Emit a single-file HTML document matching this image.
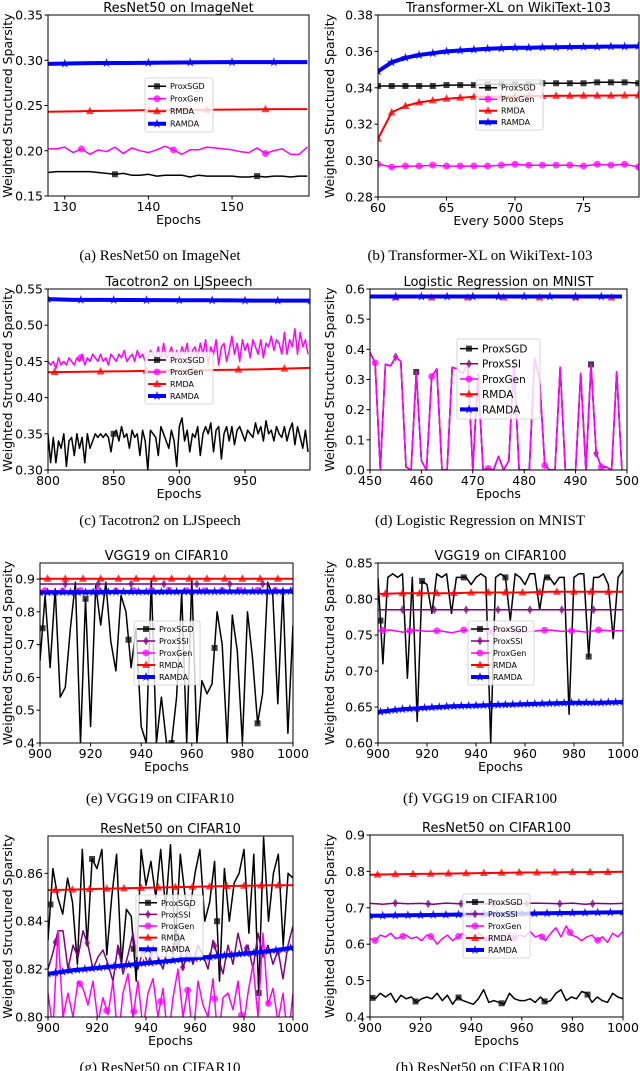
<!DOCTYPE html>
<html><head><meta charset="utf-8">
<style>
html,body{margin:0;padding:0;background:#fff;}
svg{display:block;}
text{font-family:"DejaVu Sans","Liberation Sans",sans-serif;}
.cap{font-family:"Liberation Serif","DejaVu Serif",serif;font-size:15px;}
</style></head>
<body>
<svg id="fig" width="640" height="1071" viewBox="0 0 640 1071" xmlns="http://www.w3.org/2000/svg"></svg>
<script>
// ---------- data ----------
const a_sgd=[0.176,0.177,0.177,0.177,0.177,0.177,0.176,0.175,0.174,0.175,0.173,0.173,0.174,0.172,0.173,0.173,0.173,0.171,0.173,0.172,0.172,0.172,0.172,0.171,0.171,0.172,0.171,0.172,0.172,0.171,0.172,0.172];
const a_gen=[0.202,0.202,0.204,0.198,0.202,0.196,0.201,0.199,0.204,0.197,0.203,0.200,0.198,0.201,0.205,0.201,0.196,0.201,0.201,0.204,0.203,0.202,0.201,0.199,0.198,0.203,0.197,0.200,0.202,0.196,0.196,0.204];
const a_rmda=[0.243,0.2435,0.244,0.2445,0.245,0.245,0.2452,0.2455,0.2457,0.246,0.246];
const a_ramda=[0.296,0.2965,0.297,0.297,0.2972,0.2975,0.2977,0.298,0.298,0.298,0.298];

const b_sgd=[0.341,0.341,0.341,0.341,0.341,0.3415,0.3415,0.3415,0.342,0.342,0.342,0.342,0.3425,0.3425,0.3425,0.3425,0.343,0.343,0.343,0.3425];
const b_gen=[0.298,0.2965,0.297,0.297,0.2975,0.297,0.297,0.297,0.297,0.2975,0.298,0.2975,0.2975,0.2975,0.2975,0.297,0.298,0.2975,0.298,0.2965];
const b_rmda=[0.312,0.3265,0.330,0.332,0.333,0.334,0.3345,0.335,0.335,0.3352,0.3353,0.3355,0.3355,0.3356,0.3356,0.3357,0.3357,0.3357,0.3358,0.3358];
const b_ramda=[0.349,0.354,0.3565,0.358,0.359,0.360,0.3605,0.361,0.3615,0.3617,0.362,0.362,0.3622,0.3623,0.3624,0.3625,0.3626,0.3627,0.3627,0.3628];

const c_sgd=[0.35,0.31,0.345,0.31,0.34,0.33,0.35,0.305,0.34,0.345,0.32,0.35,0.33,0.345,0.31,0.35,0.33,0.34,0.35,0.345,0.35,0.345,0.35,0.345,0.325,0.35,0.355,0.34,0.36,0.345,0.35,0.33,0.355,0.345,0.35,0.32,0.355,0.34,0.30,0.355,0.35,0.345,0.32,0.36,0.35,0.34,0.33,0.355,0.34,0.305,0.36,0.372,0.34,0.355,0.325,0.35,0.345,0.36,0.32,0.35,0.36,0.35,0.365,0.325,0.355,0.36,0.315,0.35,0.36,0.34,0.36,0.335,0.355,0.36,0.35,0.34,0.355,0.35,0.345,0.365,0.35,0.36,0.34,0.368,0.35,0.355,0.34,0.36,0.35,0.345,0.36,0.34,0.355,0.365,0.335,0.36,0.345,0.33,0.355,0.325];
const c_gen=[0.45,0.445,0.45,0.44,0.455,0.445,0.45,0.445,0.455,0.45,0.445,0.455,0.45,0.46,0.445,0.455,0.45,0.46,0.455,0.45,0.46,0.45,0.455,0.445,0.46,0.455,0.45,0.46,0.455,0.465,0.45,0.455,0.46,0.45,0.465,0.455,0.46,0.45,0.455,0.465,0.46,0.455,0.47,0.45,0.475,0.455,0.46,0.47,0.45,0.465,0.455,0.47,0.46,0.475,0.445,0.465,0.47,0.455,0.475,0.46,0.48,0.445,0.47,0.46,0.48,0.445,0.47,0.475,0.45,0.465,0.485,0.46,0.475,0.45,0.48,0.465,0.475,0.455,0.48,0.47,0.46,0.48,0.455,0.475,0.47,0.485,0.465,0.48,0.475,0.46,0.49,0.46,0.48,0.47,0.495,0.46,0.49,0.47,0.48,0.46];
const c_rmda=[0.435,0.4355,0.436,0.4365,0.437,0.4375,0.438,0.4385,0.439,0.44,0.441];
const c_ramda=[0.536,0.535,0.535,0.5348,0.5346,0.5345,0.5344,0.5342,0.534,0.534,0.534];

const d_gen=[0.39,0.355,0.0,0.35,0.345,0.375,0.36,0.01,0.0,0.325,0.03,0.0,0.31,0.335,0.0,0.0,0.34,0.335,0.32,0.35,0.0,0.32,0.0,0.005,0.0,0.045,0.0,0.03,0.36,0.0,0.0,0.0,0.37,0.3,0.015,0.0,0.0,0.34,0.0,0.0,0.0,0.32,0.0,0.35,0.055,0.01,0.01,0.0,0.325,0.0];
const d_rmda=[0.572,0.572,0.572,0.572,0.572];
const d_ramda=[0.575,0.575,0.575,0.575,0.575];

const e_sgd=[0.65,0.85,0.63,0.87,0.54,0.57,0.75,0.89,0.40,0.84,0.45,0.88,0.76,0.89,0.71,0.62,0.85,0.80,0.63,0.75,0.45,0.40,0.90,0.40,0.54,0.40,0.40,0.54,0.86,0.40,0.90,0.40,0.59,0.55,0.58,0.80,0.70,0.40,0.79,0.68,0.40,0.80,0.66,0.46,0.55,0.89,0.85,0.52,0.87,0.43,0.76];
const e_ssi=[0.885,0.885,0.885,0.885,0.885];
const e_gen=[0.865,0.864,0.866,0.864,0.865,0.866,0.864,0.865,0.866,0.865,0.865];
const e_rmda=[0.901,0.901,0.901,0.901,0.901];
const e_ramda=[0.859,0.86,0.86,0.861,0.861,0.861,0.862,0.862,0.862,0.862,0.863];

const f_sgd=[0.83,0.71,0.83,0.835,0.83,0.835,0.69,0.83,0.63,0.825,0.82,0.78,0.835,0.83,0.835,0.78,0.83,0.83,0.83,0.82,0.83,0.835,0.83,0.60,0.83,0.835,0.83,0.77,0.835,0.83,0.82,0.835,0.835,0.785,0.83,0.83,0.82,0.83,0.83,0.64,0.83,0.835,0.835,0.72,0.83,0.83,0.835,0.82,0.745,0.83,0.84];
const f_ssi=[0.785,0.785,0.785,0.785,0.785];
const f_gen=[0.756,0.757,0.754,0.757,0.755,0.756,0.753,0.757,0.756,0.755,0.756,0.757,0.754,0.756,0.757,0.755,0.756,0.754,0.757,0.756,0.756];
const f_rmda=[0.807,0.808,0.808,0.808,0.809,0.809,0.809,0.81,0.81,0.81,0.81];
const f_ramda=[0.643,0.647,0.649,0.651,0.652,0.653,0.654,0.655,0.656,0.656,0.657];

const g_sgd=[0.832,0.862,0.85,0.843,0.858,0.848,0.822,0.87,0.83,0.866,0.862,0.87,0.826,0.85,0.868,0.822,0.845,0.842,0.815,0.87,0.855,0.865,0.85,0.87,0.845,0.872,0.83,0.868,0.85,0.845,0.86,0.87,0.84,0.848,0.865,0.815,0.862,0.84,0.856,0.86,0.87,0.835,0.868,0.81,0.875,0.84,0.86,0.868,0.83,0.86,0.858];
const g_ssi=[0.82,0.827,0.836,0.836,0.82,0.83,0.825,0.836,0.83,0.82,0.825,0.828,0.822,0.815,0.83,0.818,0.826,0.835,0.82,0.828,0.822,0.83,0.825,0.82,0.83,0.826,0.835,0.82,0.829,0.822,0.83,0.826,0.82,0.832,0.825,0.818,0.83,0.822,0.835,0.826,0.83,0.82,0.835,0.825,0.83,0.822,0.828,0.816,0.83,0.838];
const g_gen=[0.81,0.795,0.836,0.80,0.81,0.80,0.815,0.812,0.805,0.815,0.798,0.808,0.801,0.815,0.79,0.81,0.818,0.8,0.815,0.795,0.81,0.816,0.8,0.812,0.79,0.808,0.82,0.8,0.812,0.79,0.815,0.805,0.8,0.816,0.79,0.808,0.81,0.803,0.815,0.795,0.81,0.822,0.8,0.835,0.805,0.812,0.798,0.81,0.79,0.81];
const g_rmda=[0.853,0.8532,0.8535,0.8537,0.854,0.8542,0.8544,0.8546,0.8548,0.855,0.855];
const g_ramda=[0.818,0.8195,0.8205,0.8215,0.8225,0.8235,0.8245,0.8255,0.8265,0.8275,0.829];

const h_sgd=[0.455,0.45,0.465,0.455,0.465,0.44,0.46,0.45,0.455,0.44,0.45,0.455,0.45,0.465,0.445,0.46,0.435,0.455,0.445,0.44,0.435,0.45,0.475,0.44,0.445,0.44,0.435,0.465,0.45,0.445,0.445,0.45,0.44,0.455,0.44,0.445,0.465,0.475,0.445,0.455,0.45,0.47,0.465,0.44,0.455,0.445,0.44,0.465,0.455,0.45];
const h_ssi=[0.712,0.71,0.713,0.711,0.712,0.71,0.713,0.711,0.712,0.711,0.71,0.712,0.711,0.713,0.712,0.711,0.713,0.71,0.712,0.711,0.712];
const h_gen=[0.615,0.61,0.625,0.62,0.63,0.615,0.62,0.625,0.615,0.62,0.61,0.625,0.62,0.6,0.615,0.625,0.61,0.62,0.63,0.62,0.615,0.63,0.62,0.61,0.625,0.61,0.62,0.63,0.615,0.625,0.62,0.635,0.62,0.625,0.61,0.63,0.645,0.62,0.65,0.625,0.62,0.61,0.62,0.625,0.61,0.62,0.605,0.63,0.62,0.635];
const h_rmda=[0.791,0.792,0.793,0.794,0.795,0.796,0.797,0.797,0.798,0.798,0.799];
const h_ramda=[0.678,0.679,0.68,0.681,0.682,0.683,0.684,0.685,0.686,0.687,0.688];

const aXT=[130,140,150], aYT=[0.15,0.20,0.25,0.30,0.35];
const bXT=[60,65,70,75], bYT=[0.28,0.30,0.32,0.34,0.36,0.38];
const cXT=[800,850,900,950], cYT=[0.30,0.35,0.40,0.45,0.50,0.55];
const dXT=[450,460,470,480,490,500], dYT=[0.0,0.1,0.2,0.3,0.4,0.5,0.6];
const eXT=[900,920,940,960,980,1000], eYT=[0.4,0.5,0.6,0.7,0.8,0.9];
const fXT=[900,920,940,960,980,1000], fYT=[0.60,0.65,0.70,0.75,0.80,0.85];
const gXT=[900,920,940,960,980,1000], gYT=[0.80,0.82,0.84,0.86];
const hXT=[900,920,940,960,980,1000], hYT=[0.4,0.5,0.6,0.7,0.8,0.9];

// ---------- styles ----------
const ST={
 ProxSGD:{c:'#000000',w:1.5,m:'sq'},
 ProxSSI:{c:'#800080',w:1.5,m:'dia'},
 ProxGen:{c:'#ff00ff',w:1.5,m:'circ'},
 RMDA:{c:'#ff0000',w:2,m:'tri'},
 RAMDA:{c:'#0000ff',w:4,m:'star'}
};
const NS='http://www.w3.org/2000/svg';
const fig=document.getElementById('fig');
function mk(tag,attrs,parent){const e=document.createElementNS(NS,tag);for(const k in attrs)e.setAttribute(k,attrs[k]);(parent||fig).appendChild(e);return e;}
function marker(type,x,y,col,g){
  let e;
  if(type==='sq'){e=mk('rect',{x:x-3,y:y-3,width:6,height:6,fill:col,'fill-opacity':0.75},g);}
  else if(type==='circ'){e=mk('circle',{cx:x,cy:y,r:3.5,fill:col,'fill-opacity':0.75},g);}
  else if(type==='tri'){e=mk('polygon',{points:`${x},${y-4.5} ${x-4},${y+3} ${x+4},${y+3}`,fill:col,'fill-opacity':0.75},g);}
  else if(type==='dia'){e=mk('polygon',{points:`${x},${y-4.5} ${x-2.8},${y} ${x},${y+4.5} ${x+2.8},${y}`,fill:col,'fill-opacity':0.75},g);}
  else {let p=[];for(let i=0;i<10;i++){const r=i%2?2:5;const a=-Math.PI/2+i*Math.PI/5;p.push((x+r*Math.cos(a)).toFixed(1)+','+(y+r*Math.sin(a)).toFixed(1));}
        e=mk('polygon',{points:p.join(' '),fill:col,'fill-opacity':0.85},g);}
  
  
}

const charts=[
 {id:'a',title:'ResNet50 on ImageNet',box:[48,15,309,196],xd:[128,159.2],yd:[0.15,0.35],xt:aXT,yt:aYT,dec:2,xl:'Epochs',cap:'(a) ResNet50 on ImageNet',capY:260,leg:[145,78,68,54],lf:8,
  series:[['ProxSGD',a_sgd,128,159,[136,17]],['ProxGen',a_gen,128,159,[132,11]],['RMDA',a_rmda,128,159,[133,7]],['RAMDA',a_ramda,128,159,[130,5]]]},
 {id:'b',title:'Transformer-XL on WikiText-103',box:[378,15,639,197],xd:[60,79.05],yd:[0.28,0.38],xt:bXT,yt:bYT,dec:2,xl:'Every 5000 Steps',cap:'(b) Transformer-XL on WikiText-103',capY:260,leg:[476,80,67,50],lf:8,
  series:[['ProxSGD',b_sgd,60,79,[60,1]],['ProxGen',b_gen,60,79,[60,1]],['RMDA',b_rmda,60,79,[60,1]],['RAMDA',b_ramda,60,79,[60,1]]]},
 {id:'c',title:'Tacotron2 on LJSpeech',box:[48,289,310,470],xd:[800,999.5],yd:[0.30,0.55],xt:cXT,yt:cYT,dec:2,xl:'Epochs',cap:'(c) Tacotron2 on LJSpeech',capY:525,leg:[145,352,68,52],lf:8,
  series:[['ProxSGD',c_sgd,800,998,[850,200]],['ProxGen',c_gen,800,998,[825,200]],['RMDA',c_rmda,800,1000,[805,35]],['RAMDA',c_ramda,800,1000,[800,25]]]},
 {id:'d',title:'Logistic Regression on MNIST',box:[370,289,627,470],xd:[450,500],yd:[0,0.6],xt:dXT,yt:dYT,dec:1,xl:'Epochs',cap:'(d) Logistic Regression on MNIST',capY:525,leg:[457,339,83,80],lf:10.5,
  series:[['ProxSGD',d_gen,450,499,[459,34]],['ProxSSI',d_gen,450,499,[455,39]],['ProxGen',d_gen,450,499,[451,11]],['RMDA',d_rmda,450,499,[455,7]],['RAMDA',d_ramda,450,499,[455,5]]]},
 {id:'e',title:'VGG19 on CIFAR10',box:[40,563,293,743],xd:[900,1000],yd:[0.4,0.949],xt:eXT,yt:eYT,dec:1,xl:'Epochs',cap:'(e) VGG19 on CIFAR10',capY:803,leg:[134,621,66,64],lf:8,
  series:[['ProxSGD',e_sgd,900,1000,[901,17]],['ProxSSI',e_ssi,900,1000,[910,13]],['ProxGen',e_gen,900,1000,[902,7]],['RMDA',e_rmda,900,1000,[903,7]],['RAMDA',e_ramda,900,1000,[900,3]]]},
 {id:'f',title:'VGG19 on CIFAR100',box:[378,563,623,743],xd:[900,1000],yd:[0.60,0.85],xt:fXT,yt:fYT,dec:2,xl:'Epochs',cap:'(f) VGG19 on CIFAR100',capY:803,leg:[468,621,66,64],lf:8,
  series:[['ProxSGD',f_sgd,900,1000,[901,17]],['ProxSSI',f_ssi,900,1000,[910,13]],['ProxGen',f_gen,900,1000,[902,11]],['RMDA',f_rmda,900,1000,[903,7]],['RAMDA',f_ramda,900,1000,[901,3]]]},
 {id:'g',title:'ResNet50 on CIFAR10',box:[48,836,293,1017],xd:[900,1000],yd:[0.80,0.8756],xt:gXT,yt:gYT,dec:2,xl:'Epochs',cap:'(g) ResNet50 on CIFAR10',capY:1072,leg:[136,895,67,62],lf:8,
  series:[['ProxSGD',g_sgd,900,1000,[901,17]],['ProxSSI',g_ssi,900,1000,[903,13]],['ProxGen',g_gen,900,1000,[913,11]],['RMDA',g_rmda,900,1000,[903,7]],['RAMDA',g_ramda,900,1000,[900,3]]]},
 {id:'h',title:'ResNet50 on CIFAR100',box:[370,835,623,1017],xd:[900,1000],yd:[0.4,0.9],xt:hXT,yt:hYT,dec:1,xl:'Epochs',cap:'(h) ResNet50 on CIFAR100',capY:1072,leg:[463,894,67,64],lf:8,
  series:[['ProxSGD',h_sgd,900,1000,[901,17]],['ProxSSI',h_ssi,900,1000,[910,13]],['ProxGen',h_gen,900,1000,[902,11]],['RMDA',h_rmda,900,1000,[903,7]],['RAMDA',h_ramda,900,1000,[900,5]]]}
];

function interp(vals,x0,x1,x){const n=vals.length;const t=(x-x0)/(x1-x0)*(n-1);const i=Math.max(0,Math.min(n-2,Math.floor(t)));const f=t-i;return vals[i]*(1-f)+vals[i+1]*f;}

charts.forEach(ch=>{
  const [L,T,R,B]=ch.box;
  const g=mk('g',{});
  
  
  const sx=v=>L+(v-ch.xd[0])/(ch.xd[1]-ch.xd[0])*(R-L);
  const sy=v=>B-(v-ch.yd[0])/(ch.yd[1]-ch.yd[0])*(B-T);
  const cp=mk('clipPath',{id:'clip'+ch.id},g);
  mk('rect',{x:L,y:T,width:R-L,height:B-T},cp);
  const pg=mk('g',{'clip-path':`url(#clip${ch.id})`},g);
  
  
  ch.series.forEach(s=>{
    const [name,vals,x0,x1,mkr]=s; const st=ST[name];
    const n=vals.length;
    const pts=vals.map((v,i)=>sx(x0+(x1-x0)*i/(n-1)).toFixed(1)+','+sy(v).toFixed(1)).join(' ');
    const pl=mk('polyline',{points:pts,fill:'none',stroke:st.c,'stroke-width':st.w,'stroke-linejoin':'round'},pg);
    
    
    for(let x=mkr[0];x<=x1;x+=mkr[1]){marker(st.m,sx(x),sy(interp(vals,x0,x1,x)),st.c,pg);}
  });
  const fr=mk('rect',{x:L,y:T,width:R-L,height:B-T,fill:'none',stroke:'#000','stroke-width':1},g);
  
  
  ch.xt.forEach(v=>{const x=sx(v);mk('line',{x1:x,x2:x,y1:B,y2:B+3.5,stroke:'#000'},g);
    const t=mk('text',{x:x,y:B+15,'font-size':12.5,'text-anchor':'middle'},g);t.textContent=v;
    
    });
  ch.yt.forEach(v=>{const y=sy(v);mk('line',{x1:L-3.5,x2:L,y1:y,y2:y,stroke:'#000'},g);
    const t=mk('text',{x:L-5,y:y+4.5,'font-size':12.5,'text-anchor':'end'},g);t.textContent=v.toFixed(ch.dec);
    
    });
  const tt=mk('text',{x:(L+R)/2,y:T-3,'font-size':13,'text-anchor':'middle'},g);tt.textContent=ch.title;
  
  
  const xl=mk('text',{x:(L+R)/2,y:B+28,'font-size':12.5,'text-anchor':'middle'},g);xl.textContent=ch.xl;
  
  
  const lx=(ch.id.charCodeAt(0)-97)%2===0?12:334;
  const yl=mk('text',{x:lx,y:(T+B)/2,'font-size':12.5,'text-anchor':'middle',transform:`rotate(-90 ${lx} ${(T+B)/2})`},g);yl.textContent='Weighted Structured Sparsity';
  
  
  const cap=mk('text',{x:(ch.id.charCodeAt(0)-97)%2===0?160:480,y:ch.capY,'text-anchor':'middle',class:'cap'},g);cap.textContent=ch.cap;
  
  
  const [gx,gy,gw,gh]=ch.leg;
  const lg=mk('g',{},g);
  
  
  mk('rect',{x:gx,y:gy,width:gw,height:gh,rx:2,fill:'#fff','fill-opacity':0.8,stroke:'#ccc','stroke-width':0.8},lg);
  const nS=ch.series.length; const rh=(gh-4)/nS;
  ch.series.forEach((s,i)=>{const st=ST[s[0]];const y=gy+2+rh*(i+0.5);
    mk('line',{x1:gx+3,x2:gx+21,y1:y,y2:y,stroke:st.c,'stroke-width':st.w},lg);
    marker(st.m,gx+12,y,st.c,lg);
    const t=mk('text',{x:gx+25,y:y+ch.lf*0.37,'font-size':ch.lf},lg);t.textContent=s[0];
    
    });
});
</script>
</body></html>
